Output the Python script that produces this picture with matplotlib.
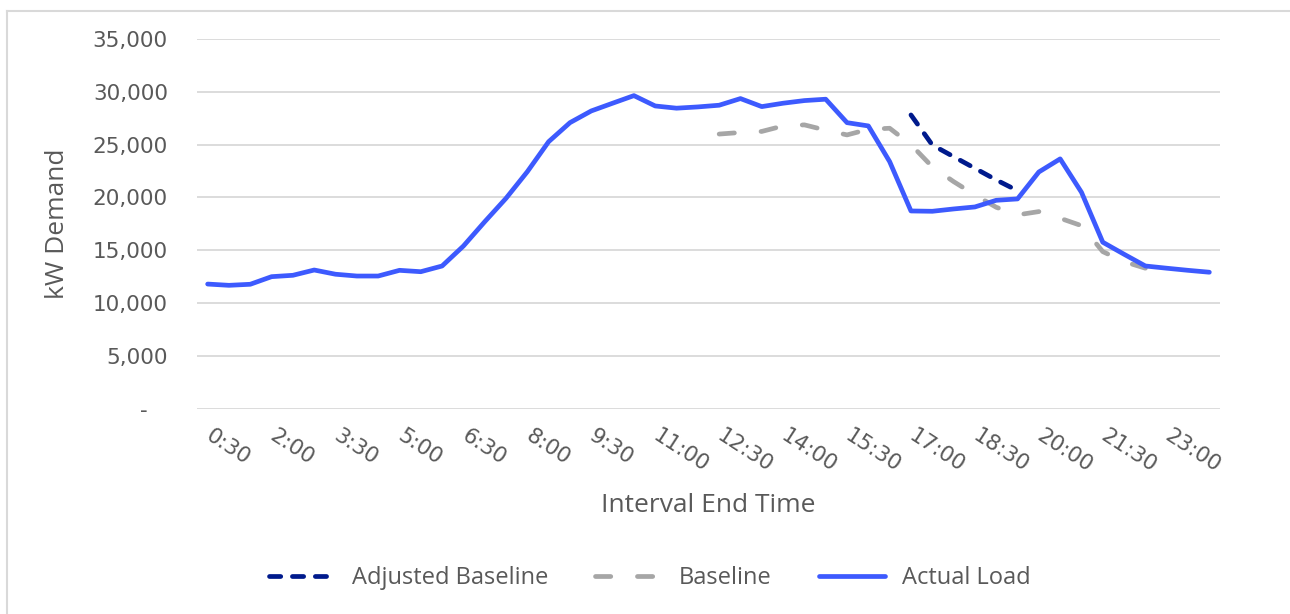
import numpy as np
import matplotlib
matplotlib.use("Agg")
import matplotlib.pyplot as plt
from matplotlib.lines import Line2D

intervals = ["0:30", "1:00", "1:30", "2:00", "2:30", "3:00", "3:30", "4:00",
             "4:30", "5:00", "5:30", "6:00", "6:30", "7:00", "7:30", "8:00",
             "8:30", "9:00", "9:30", "10:00", "10:30", "11:00", "11:30", "12:00",
             "12:30", "13:00", "13:30", "14:00", "14:30", "15:00", "15:30", "16:00",
             "16:30", "17:00", "17:30", "18:00", "18:30", "19:00", "19:30", "20:00",
             "20:30", "21:00", "21:30", "22:00", "22:30", "23:00", "23:30", "24:00"]

actual_load = [11800, 11680, 11780, 12500, 12630, 13130, 12730, 12560,
               12560, 13100, 12970, 13510, 15400, 17700, 19920, 22440,
               25280, 27080, 28190, 28920, 29640, 28660, 28450, 28570,
               28730, 29360, 28600, 28920, 29170, 29300, 27080, 26770,
               23390, 18720, 18690, 18910, 19100, 19730, 19860, 22410,
               23650, 20490, 15760, 14620, 13510, 13300, 13100, 12920]

N = None
baseline = [N, N, N, N, N, N, N, N, N, N, N, N, N, N, N, N, N, N, N, N, N, N, N, N,
            26000, 26150, 26250, 26770, 26870, 26370, 25920, 26450,
            26550, 25000, 22900, 21500, 20240, 19070, 18350, 18660,
            18030, 17330, 14870, 13920, 13300, N, N, N]

adjusted_baseline = [N] * 33 + [27810, 24970, 23860, 22760, 21660, 20640] + [N] * 9

def arr(v):
    return np.array([np.nan if x is None else x for x in v], dtype=float)

plt.rcParams['lines.scale_dashes'] = False

W, H = 1290, 614
fig = plt.figure(figsize=(W / 100, H / 100), dpi=100)
L, R, T, B = 197, 1220, 39, 408.7
ax = fig.add_axes([L / W, 1 - B / H, (R - L) / W, (B - T) / H])

x = np.arange(len(intervals))
lw = 3.4
c_adj = "#001A8C"
c_base = "#A6A6A6"
c_act = "#3D5AFE"

ax.plot(x, arr(baseline), color=c_base, lw=lw, dashes=(11, 19.2),
        dash_capstyle='round', solid_capstyle='round', label="Baseline", zorder=2)
ax.plot(x, arr(actual_load), color=c_act, lw=lw, solid_capstyle='round',
        solid_joinstyle='round', label="Actual Load", zorder=3)
ax.plot(x, arr(adjusted_baseline), color=c_adj, lw=lw, dashes=(8.1, 8.4),
        dash_capstyle='round', solid_capstyle='round', label="Adjusted Baseline", zorder=4)

ax.set_xlim(-0.5, len(intervals) - 0.5)
ax.set_ylim(0, 35000)
yt = np.arange(0, 35001, 5000)
ax.set_yticks(yt)
ax.set_yticklabels(["-   " if v == 0 else f"{v:,}" for v in yt])
ax.set_xticks(x[::3])
ax.set_xticklabels(intervals[::3])
ax.grid(axis='y', color='#D9D9D9', lw=1.3)
ax.set_axisbelow(True)
for s in ax.spines.values():
    s.set_visible(False)
ax.tick_params(axis='both', length=0, colors='#595959', labelsize=15.5)
ax.tick_params(axis='y', pad=21)
ax.tick_params(axis='x', pad=18)
for lab in ax.get_xticklabels():
    lab.set_rotation(-33)
    lab.set_ha('left')
    lab.set_va('center')
    lab.set_rotation_mode('anchor')
    lab.set_fontfamily('DejaVu Sans')
for lab in ax.get_yticklabels():
    lab.set_fontfamily('DejaVu Sans')

fig.text(58 / W, 1 - 224 / H, "kW Demand", rotation=90, ha='center', va='center',
         fontsize=19, color='#595959', family='Open Sans')
fig.text(708.5 / W, 1 - 505 / H, "Interval End Time", ha='center', va='center',
         fontsize=19, color='#595959', family='Open Sans')

handles = [
    Line2D([], [], color=c_adj, lw=lw, dashes=(8.1, 8.4), dash_capstyle='round'),
    Line2D([], [], color=c_base, lw=lw, dashes=(11, 19.2), dash_capstyle='round'),
    Line2D([], [], color=c_act, lw=lw, solid_capstyle='round'),
]
fig.legend(handles, ["Adjusted Baseline", "Baseline", "Actual Load"],
           loc='center', bbox_to_anchor=(649.5 / W, 1 - 578 / H), ncol=3,
           frameon=False, handlelength=2.8, handletextpad=0.72, columnspacing=2.0,
           prop={'family': 'Open Sans', 'size': 17}, labelcolor='#595959')

fig.add_artist(Line2D([6.5 / W, 6.5 / W], [0, 1 - 10.5 / H], color='#D9D9D9', lw=1.5,
                      transform=fig.transFigure))
fig.add_artist(Line2D([6.5 / W, 1], [1 - 10.5 / H, 1 - 10.5 / H], color='#D9D9D9', lw=1.5,
                      transform=fig.transFigure))

fig.savefig("out.png", dpi=100)
